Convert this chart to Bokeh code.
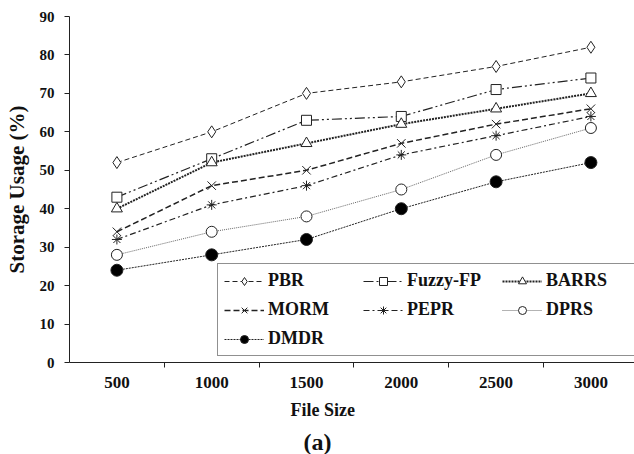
from bokeh.plotting import figure
from bokeh.models import Range1d, FixedTicker, Legend, LegendItem, Title
from bokeh.embed import file_html
from bokeh.resources import INLINE

file_sizes = [500, 1000, 1500, 2000, 2500, 3000]
x_tick_labels = ["500", "1000", "1500", "2000", "2500", "3000"]
band_edges = [750, 1250, 1750, 2250, 2750]
y_ticks = [0, 10, 20, 30, 40, 50, 60, 70, 80, 90]

pbr = [52, 60, 70, 73, 77, 82]
fuzzy_fp = [43, 53, 63, 64, 71, 74]
barrs = [40, 52, 57, 62, 66, 70]
morm = [34, 46, 50, 57, 62, 66]
pepr = [32, 41, 46, 54, 59, 64]
dprs = [28, 34, 38, 45, 54, 61]
dmdr = [24, 28, 32, 40, 47, 52]

FONT = "Liberation Serif"

p = figure(width=634, height=454, output_backend="svg", toolbar_location=None,
           x_range=Range1d(250, 3230), y_range=Range1d(0, 90))
p.min_border_left = 69
p.min_border_right = 0
p.min_border_top = 16
p.min_border_bottom = 92
p.outline_line_color = None
p.grid.visible = False
p.background_fill_color = "white"
p.border_fill_color = "white"

# x axis: labels at category centres, ticks at band edges
xa = p.xaxis[0]
xa.ticker = FixedTicker(ticks=file_sizes, minor_ticks=band_edges)
xa.major_label_overrides = {v: s for v, s in zip(file_sizes, x_tick_labels)}
xa.major_tick_line_color = None
xa.minor_tick_in = 0
xa.minor_tick_out = 5
xa.minor_tick_line_color = "#222222"
xa.axis_line_color = "#222222"
xa.major_label_text_font = FONT
xa.major_label_text_font_style = "bold"
xa.major_label_text_font_size = "17px"
xa.major_label_text_color = "#111111"
xa.major_label_standoff = 8

ya = p.yaxis[0]
ya.ticker = FixedTicker(ticks=y_ticks)
ya.major_tick_in = 0
ya.major_tick_out = 5
ya.minor_tick_line_color = None
ya.axis_line_color = "#222222"
ya.major_tick_line_color = "#222222"
ya.major_label_text_font = FONT
ya.major_label_text_font_style = "bold"
ya.major_label_text_font_size = "15px"
ya.major_label_text_color = "#111111"
ya.major_label_standoff = 10
ya.axis_label = "Storage Usage (%)"
ya.axis_label_text_font = FONT
ya.axis_label_text_font_style = "bold"
ya.axis_label_text_font_size = "21px"
ya.axis_label_text_color = "#111111"
ya.axis_label_standoff = 8

series = [
    ("PBR", pbr, "5 3", 1.0, "#222222", "diamond", 12, "white"),
    ("Fuzzy-FP", fuzzy_fp, "10 3 2 3 2 3", 1.2, "#222222", "square", 10, "white"),
    ("BARRS", barrs, "2 1", 2.0, "#222222", "triangle", 11, "white"),
    ("MORM", morm, "6 3", 1.5, "#222222", "x", 12, "white"),
    ("PEPR", pepr, "6 3 2 3", 1.2, "#222222", "asterisk", 10, "white"),
    ("DPRS", dprs, "1 1", 1.0, "#666666", "circle", 11, "white"),
    ("DMDR", dmdr, "2 1", 1.0, "#222222", "circle", 12, "black"),
]

line_renderers = []
for name, vals, dash, lw, col, marker, size, fill in series:
    line_renderers.append(p.line(file_sizes, vals, line_color=col, line_dash=dash, line_width=lw))
marker_renderers = []
for name, vals, dash, lw, col, marker, size, fill in series:
    marker_renderers.append(p.scatter(file_sizes, vals, marker=marker, size=size,
                                      line_color="#222222", fill_color=fill, line_width=1))

legend_items = [LegendItem(label=s[0], renderers=[r1, r2])
                for s, r1, r2 in zip(series, line_renderers, marker_renderers)]
legend = Legend(items=legend_items, location=(148, 6), orientation="horizontal", ncols=3)
legend.label_text_font = FONT
legend.label_text_font_style = "bold"
legend.label_text_font_size = "18px"
legend.label_text_color = "#111111"
legend.glyph_width = 40
legend.glyph_height = 20
legend.label_height = 20
legend.label_width = 87
legend.label_standoff = 4
legend.padding = 6
legend.spacing = 8
legend.margin = 0
legend.border_line_color = "#222222"
legend.border_line_width = 1.5
legend.background_fill_color = "white"
legend.background_fill_alpha = 1
p.add_layout(legend, "center")

xlabel = Title(text="File Size", align="left", offset=221, standoff=14,
               text_font=FONT, text_font_style="bold", text_font_size="18px",
               text_color="#111111")
sub = Title(text="(a)", align="left", offset=234, standoff=0,
            text_font=FONT, text_font_style="bold", text_font_size="24px",
            text_color="#111111")
p.add_layout(xlabel, "below")
p.add_layout(sub, "below")

open("out.html", "w").write(file_html(p, INLINE))
